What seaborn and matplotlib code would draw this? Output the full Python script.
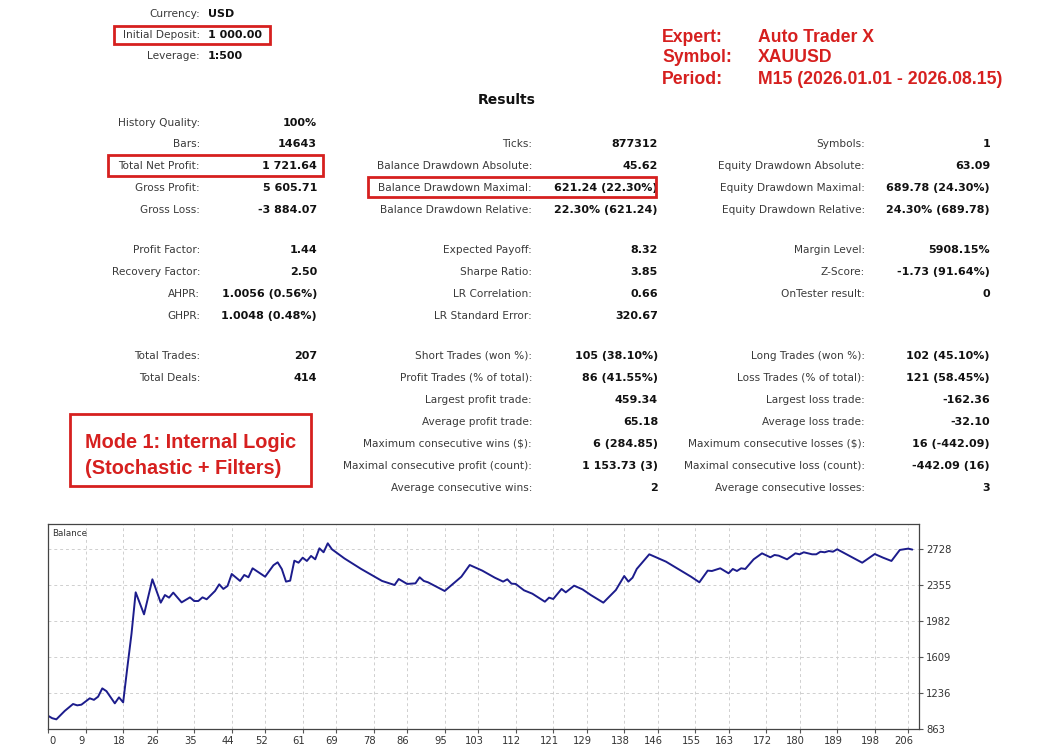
import matplotlib
matplotlib.use("Agg")
import matplotlib.pyplot as plt
import matplotlib.patches as mpatches
from matplotlib.transforms import ScaledTranslation
import seaborn as sns
import pandas as pd

# ---------------- data ----------------
header_labels = ["Currency:", "Initial Deposit:", "Leverage:"]
header_values = ["USD", "1 000.00", "1:500"]

expert_labels = ["Expert:", "Symbol:", "Period:"]
expert_values = ["Auto Trader X", "XAUUSD", "M15 (2026.01.01 - 2026.08.15)"]

col1_labels = ["History Quality:", "Bars:", "Total Net Profit:", "Gross Profit:", "Gross Loss:",
               "Profit Factor:", "Recovery Factor:", "AHPR:", "GHPR:",
               "Total Trades:", "Total Deals:"]
col1_values = ["100%", "14643", "1 721.64", "5 605.71", "-3 884.07",
               "1.44", "2.50", "1.0056 (0.56%)", "1.0048 (0.48%)",
               "207", "414"]

col2_labels = ["Ticks:", "Balance Drawdown Absolute:", "Balance Drawdown Maximal:",
               "Balance Drawdown Relative:", "Expected Payoff:", "Sharpe Ratio:",
               "LR Correlation:", "LR Standard Error:", "Short Trades (won %):",
               "Profit Trades (% of total):", "Largest profit trade:", "Average profit trade:",
               "Maximum consecutive wins ($):", "Maximal consecutive profit (count):",
               "Average consecutive wins:"]
col2_values = ["877312", "45.62", "621.24 (22.30%)", "22.30% (621.24)", "8.32", "3.85",
               "0.66", "320.67", "105 (38.10%)", "86 (41.55%)", "459.34", "65.18",
               "6 (284.85)", "1 153.73 (3)", "2"]

col3_labels = ["Symbols:", "Equity Drawdown Absolute:", "Equity Drawdown Maximal:",
               "Equity Drawdown Relative:", "Margin Level:", "Z-Score:", "OnTester result:",
               "Long Trades (won %):", "Loss Trades (% of total):", "Largest loss trade:",
               "Average loss trade:", "Maximum consecutive losses ($):",
               "Maximal consecutive loss (count):", "Average consecutive losses:"]
col3_values = ["1", "63.09", "689.78 (24.30%)", "24.30% (689.78)", "5908.15%",
               "-1.73 (91.64%)", "0", "102 (45.10%)", "121 (58.45%)", "-162.36",
               "-32.10", "16 (-442.09)", "-442.09 (16)", "3"]

note_lines = ["Mode 1: Internal Logic", "(Stochastic + Filters)"]

trade_no = [0, 1, 2, 4, 6, 7, 8, 10, 11, 12, 13, 14, 16, 17, 18, 19, 20, 21, 23, 25, 27, 28, 29,
            30, 32, 34, 35, 36, 37, 38, 40, 41, 42, 43, 44, 46, 47, 48, 49, 52, 54, 55, 56, 57,
            58, 59, 60, 61, 62, 63, 64, 65, 66, 67, 68, 71, 75, 80, 83, 84, 86, 88, 89, 90, 91,
            95, 99, 101, 104, 107, 109, 110, 111, 112, 114, 116, 119, 120, 121, 123, 124, 126,
            128, 130, 133, 136, 138, 139, 140, 141, 144, 148, 154, 156, 158, 159, 161, 163, 164,
            165, 166, 167, 169, 171, 173, 174, 175, 177, 179, 180, 181, 183, 184, 185, 186, 187,
            188, 189, 195, 198, 200, 202, 204, 206, 207]
balance = [1000, 975, 963, 1050, 1122, 1108, 1115, 1181, 1165, 1198, 1284, 1255, 1129, 1191, 1139,
           1500, 1850, 2279, 2051, 2414, 2172, 2251, 2224, 2276, 2175, 2227, 2189, 2189, 2227,
           2207, 2293, 2362, 2314, 2345, 2469, 2397, 2459, 2435, 2528, 2441, 2560, 2590, 2520,
           2390, 2400, 2607, 2586, 2638, 2604, 2656, 2621, 2735, 2694, 2787, 2725, 2630, 2521,
           2397, 2355, 2417, 2366, 2372, 2435, 2397, 2383, 2293, 2441, 2562, 2504, 2431, 2390,
           2414, 2369, 2366, 2300, 2265, 2182, 2224, 2210, 2314, 2279, 2348, 2310, 2251, 2172,
           2303, 2448, 2390, 2431, 2521, 2673, 2597, 2441, 2383, 2504, 2500, 2528, 2476, 2521,
           2500, 2528, 2521, 2621, 2683, 2642, 2666, 2659, 2621, 2683, 2673, 2694, 2673, 2673,
           2700, 2694, 2707, 2700, 2725, 2586, 2676, 2638, 2604, 2718, 2732, 2722]

x_ticks = [0, 9, 18, 26, 35, 44, 52, 61, 69, 78, 86, 95, 103, 112, 121, 129, 138, 146, 155, 163,
           172, 180, 189, 198, 206]
y_ticks = [863, 1236, 1609, 1982, 2355, 2728]

# ---------------- layout ----------------
W, H = 1042, 756
fig = plt.figure(figsize=(W / 100, H / 100), dpi=100)
sns.set_style("white")
plt.rcParams["font.family"] = ["DejaVu Sans"]


def fx(x):
    return x / W


def fy(y):
    return 1 - y / H


LABEL_C = "#3a3a3a"
VAL_C = "#111111"
RED = "#d6201f"
LSIZE = 7.6
VSIZE = 8.0

# header block
head_y = [14, 35, 56]
for lab, val, y in zip(header_labels, header_values, head_y):
    fig.text(fx(200), fy(y), lab, ha="right", va="center", fontsize=LSIZE, color=LABEL_C)
    fig.text(fx(208), fy(y), val, ha="left", va="center", fontsize=VSIZE, color=VAL_C,
             fontweight="bold")

# expert block
exp_y = [37, 58, 79]
for lab, val, y in zip(expert_labels, expert_values, exp_y):
    fig.text(fx(662), fy(y), lab, ha="left", va="center", fontsize=12.7, color=RED,
             fontweight="bold", family="Liberation Sans")
    fig.text(fx(758), fy(y), val, ha="left", va="center", fontsize=12.7, color=RED,
             fontweight="bold", family="Liberation Sans")

fig.text(fx(507), fy(100), "Results", ha="center", va="center", fontsize=10,
         fontweight="bold", color=VAL_C)

row_y = [123, 144, 166, 188, 210, 250, 272, 294, 316, 356, 378, 400, 422, 444, 466, 488]
col1_rows = [0, 1, 2, 3, 4, 5, 6, 7, 8, 9, 10]
col2_rows = list(range(1, 16))
col3_rows = [1, 2, 3, 4, 5, 6, 7, 9, 10, 11, 12, 13, 14, 15]

for labels, values, rows, lx, vx in [(col1_labels, col1_values, col1_rows, 200, 317),
                                      (col2_labels, col2_values, col2_rows, 532, 658),
                                      (col3_labels, col3_values, col3_rows, 865, 990)]:
    for lab, val, r in zip(labels, values, rows):
        y = row_y[r]
        fig.text(fx(lx), fy(y), lab, ha="right", va="center", fontsize=LSIZE, color=LABEL_C)
        fig.text(fx(vx), fy(y), val, ha="right", va="center", fontsize=VSIZE, color=VAL_C,
                 fontweight="bold")

# red highlight boxes (pixel rects: x0, y0, x1, y1)
boxes = [(114, 26, 270, 44), (108, 155, 323, 176), (368, 177, 656, 197), (70, 414, 311, 486)]
for x0, y0, x1, y1 in boxes:
    fig.patches.append(mpatches.Rectangle((fx(x0), fy(y1)), (x1 - x0) / W, (y1 - y0) / H,
                                          transform=fig.transFigure, fill=False,
                                          edgecolor=RED, linewidth=2.0, zorder=5))

for line, y in zip(note_lines, [443, 468]):
    fig.text(fx(85), fy(y), line, ha="left", va="center", fontsize=14.3, color=RED,
             fontweight="bold", family="Liberation Sans")

# ---------------- balance chart ----------------
ax = fig.add_axes([fx(48), fy(729), (919 - 48) / W, (729 - 524) / H])
df = pd.DataFrame({"trade": trade_no, "balance": balance})
sns.lineplot(data=df, x="trade", y="balance", ax=ax, color="#1c1c8c", linewidth=1.4,
             estimator=None, sort=False)
ax.set_xlim(0, 208.6)
ax.set_ylim(863, 2987)
ax.set_xlabel("")
ax.set_ylabel("")
ax.yaxis.tick_right()
ax.set_xticks(x_ticks)
ax.set_yticks(y_ticks)
ax.set_xticklabels([str(t) for t in x_ticks], fontsize=7.2, color="#333333")
ax.set_yticklabels([str(t) for t in y_ticks], fontsize=7.2, color="#333333")
ax.tick_params(axis="x", direction="out", length=3, width=0.8, color="#555555", pad=2,
               bottom=True)
ax.tick_params(axis="y", direction="out", length=3, width=0.8, color="#555555", pad=2,
               right=True, left=False)
for i, lbl in enumerate(ax.get_xticklabels()):
    off = 4 if i == 0 else -4
    lbl.set_transform(lbl.get_transform() + ScaledTranslation(off / 100, 0, fig.dpi_scale_trans))
ax.grid(True, linestyle=(0, (3, 3)), color="#cfcfcf", linewidth=0.7)
for s in ax.spines.values():
    s.set_color("#444444")
    s.set_linewidth(0.9)
    s.set_visible(True)
ax.text(fx(52), fy(534), "Balance", transform=fig.transFigure, fontsize=6.3,
        color="#333333", ha="left", va="center")

fig.savefig("out.png", dpi=100)
